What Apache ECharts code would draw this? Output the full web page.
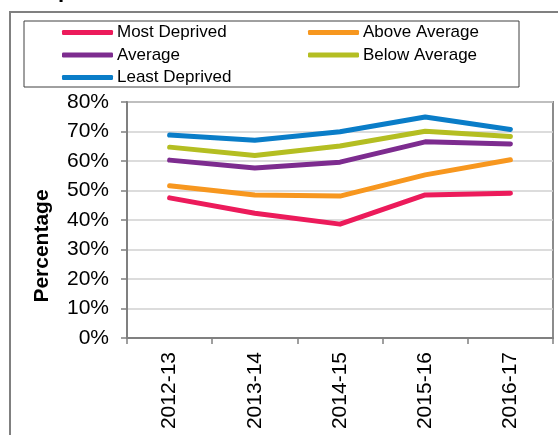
<!DOCTYPE html>
<html>
<head>
<meta charset="utf-8">
<script src="https://cdn.jsdelivr.net/npm/echarts@6/dist/echarts.min.js"></script>
<style>
  html, body { margin: 0; padding: 0; background: #fff; }
  #main { width: 558px; height: 435px; }
</style>
</head>
<body>
<div id="main"></div>
<script>
// 数据
var years = ['2012-13', '2013-14', '2014-15', '2015-16', '2016-17'];
var mostDeprived  = [47.5, 42.3, 38.6, 48.5, 49.1];
var aboveAverage  = [51.6, 48.5, 48.1, 55.3, 60.4];
var average       = [60.3, 57.6, 59.6, 66.5, 65.8];
var belowAverage  = [64.7, 61.9, 65.1, 70.1, 68.3];
var leastDeprived = [68.8, 67.0, 69.9, 74.9, 70.7];

var seriesNames  = ['Most Deprived', 'Average', 'Least Deprived', 'Above Average', 'Below Average'];
var seriesColors = ['#EC1B5B', '#7D2C8F', '#0A7DC8', '#F7971F', '#B4BE22'];

var font = 'Arial, "Liberation Sans", sans-serif';

var myChart = echarts.init(document.getElementById('main'));

function mkLine(name, data, color, z) {
    return {
        name: name,
        type: 'line',
        data: data,
        symbol: 'none',
        z: z,
        lineStyle: { color: color, width: 5, cap: 'round', join: 'round' },
        itemStyle: { color: color }
    };
}

// 图例公共样式
var legendBase = {
    orient: 'vertical', top: 24, padding: 0, itemGap: 5.5,
    itemWidth: 51, itemHeight: 5,
    icon: 'roundRect',
    textStyle: { fontFamily: font, fontSize: 17, color: '#000', padding: [0, 0, 0, -1] }
};

var option = {
    animation: false,
    grid: { left: 127, top: 102, right: 5, bottom: 97, show: true, borderColor: '#8c8c8c', borderWidth: 2 },
    legend: [
        echarts.util.merge({ data: ['Most Deprived', 'Average', 'Least Deprived'], left: 62 }, legendBase),
        echarts.util.merge({ data: ['Above Average', 'Below Average'], left: 308 }, legendBase)
    ],
    xAxis: {
        type: 'category',
        data: years,
        boundaryGap: true,
        axisLine: { lineStyle: { color: '#808080', width: 2 } },
        axisTick: { show: true, inside: false, length: 6, lineStyle: { color: '#808080', width: 1.5 } },
        axisLabel: { rotate: 90, fontFamily: font, fontSize: 21, color: '#000', margin: 14 },
        splitLine: { show: false }
    },
    yAxis: {
        type: 'value',
        min: 0, max: 80, interval: 10,
        axisLine: { show: true, lineStyle: { color: '#808080', width: 2 } },
        axisTick: { show: true, length: 6, lineStyle: { color: '#808080', width: 1.5 } },
        axisLabel: { formatter: '{value}%', fontFamily: font, fontSize: 21, color: '#000', margin: 18 },
        splitLine: { show: true, lineStyle: { color: '#d0d0d0', width: 1.5 } }
    },
    graphic: [
        // 外框
        { type: 'rect', shape: { x: 10, y: 12, width: 560, height: 440 }, style: { fill: 'none', stroke: '#808080', lineWidth: 2 }, z: -10 },
        // 图例框
        { type: 'rect', shape: { x: 24, y: 21, width: 495, height: 66 }, style: { fill: 'none', stroke: '#404040', lineWidth: 1 }, z: -5 },
        { type: 'text', left: 58, top: -20, style: { text: 'p', font: 'bold 22px Arial', fill: '#000' } },
        {
            type: 'text', x: 42, y: 246, rotation: Math.PI / 2,
            style: { text: 'Percentage', font: 'bold 21px Arial, "Liberation Sans"', fill: '#000', align: 'center', verticalAlign: 'middle' }
        }
    ],
    series: [
        mkLine(seriesNames[0], mostDeprived, seriesColors[0], 5),
        mkLine(seriesNames[3], aboveAverage, seriesColors[3], 4),
        mkLine(seriesNames[1], average, seriesColors[1], 3),
        mkLine(seriesNames[4], belowAverage, seriesColors[4], 2),
        mkLine(seriesNames[2], leastDeprived, seriesColors[2], 1)
    ]
};
myChart.setOption(option);
</script>
</body>
</html>
